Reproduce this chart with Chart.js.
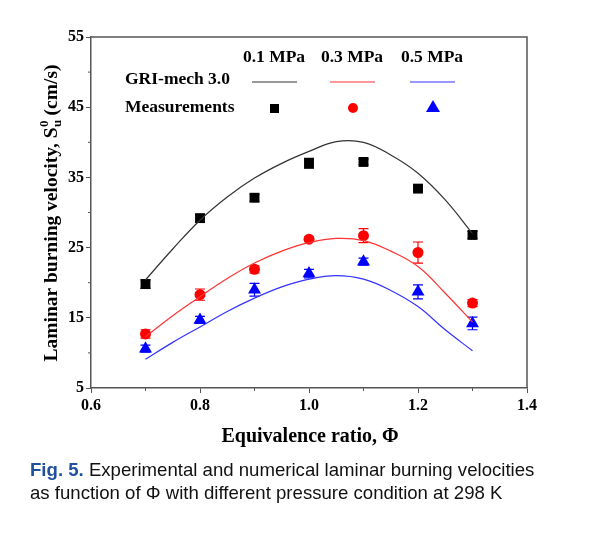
<!DOCTYPE html>
<html>
<head>
<meta charset="utf-8">
<script src="https://cdn.jsdelivr.net/npm/chart.js@4.4.1/dist/chart.umd.min.js"></script>
<style>
html,body{margin:0;padding:0;background:#fff;}
#wrap{position:relative;width:600px;height:536px;}
#cap{position:absolute;left:30px;top:458px;font-family:"Liberation Sans",Arial,sans-serif;font-size:18.6px;line-height:23px;color:#111;width:570px;white-space:nowrap;}
#cap .f{color:#1f4f9e;font-weight:bold;}
</style>
</head>
<body>
<div id="wrap">
<canvas id="c" width="600" height="536"></canvas>
<div id="cap"><span class="f">Fig. 5.</span> Experimental and numerical laminar burning velocities<br>as function of Φ with different pressure condition at 298 K</div>
</div>
<script>
// ---- data ----
const phiMeas = [0.7, 0.8, 0.9, 1.0, 1.1, 1.2, 1.3];
const meas01 = [19.8, 29.2, 32.1, 37.0, 37.2, 33.4, 26.8];
const err01  = [0.6, 0.5, 0.5, 0.7, 0.4, 0.4, 0.5];
const meas03 = [12.7, 18.3, 21.9, 26.2, 26.7, 24.3, 17.1];
const err03  = [0.6, 0.8, 0.5, 0.3, 1.0, 1.5, 0.5];
const meas05 = [10.6, 14.7, 19.0, 21.3, 23.0, 18.7, 14.2];
const err05  = [0.5, 0.5, 0.9, 0.6, 0.5, 1.0, 0.9];

const phiModel = [0.7, 0.75, 0.8, 0.85, 0.9, 0.95, 1.0, 1.05, 1.1, 1.15, 1.2, 1.25, 1.3];
const model01 = [20.4, 24.8, 28.9, 32.2, 34.9, 37.0, 38.7, 40.1, 40.0, 38.2, 35.6, 31.8, 27.0];
const model03 = [12.3, 15.3, 18.0, 20.6, 22.8, 24.5, 25.7, 26.3, 26.0, 24.5, 22.3, 18.5, 14.4];
const model05 = [9.1, 11.5, 13.7, 15.9, 17.8, 19.4, 20.5, 21.0, 20.5, 18.9, 16.6, 13.3, 10.3];

const pressureLabels = ["0.1 MPa", "0.3 MPa", "0.5 MPa"];
const xTicks = [0.6, 0.8, 1.0, 1.2, 1.4];
const yTicks = [5, 15, 25, 35, 45, 55];
const xMinor = [0.7, 0.9, 1.1, 1.3];
const yMinor = [10, 20, 30, 40, 50];

const lineColors = ["#333333", "#ff3333", "#3333ff"];
const markColors = ["#000000", "#ff0000", "#0000ff"];

const pts = (xs, ys) => xs.map((x, i) => ({x: x, y: ys[i]}));
const SERIF = '"Liberation Serif","Times New Roman",serif';

const datasets = [
  {type:'scatter', data: pts(phiModel, model01), showLine:true, borderColor: lineColors[0], borderWidth:1.2, pointRadius:0, tension:0.4, fill:false},
  {type:'scatter', data: pts(phiModel, model03), showLine:true, borderColor: lineColors[1], borderWidth:1.2, pointRadius:0, tension:0.4, fill:false},
  {type:'scatter', data: pts(phiModel, model05), showLine:true, borderColor: lineColors[2], borderWidth:1.2, pointRadius:0, tension:0.4, fill:false},
  {type:'scatter', data: pts(phiMeas, meas01), pointStyle:'rect', pointRadius:7, backgroundColor: markColors[0], borderColor: markColors[0], borderWidth:0, errs: err01},
  {type:'scatter', data: pts(phiMeas, meas03), pointStyle:'circle', pointRadius:5.5, backgroundColor: markColors[1], borderColor: markColors[1], borderWidth:0, errs: err03},
  {type:'scatter', data: pts(phiMeas, meas05), pointStyle:'triangle', pointRadius:7.5, backgroundColor: markColors[2], borderColor: markColors[2], borderWidth:0, errs: err05}
];

const extras = {
  id: 'extras',
  beforeDatasetsDraw(chart) {
    const ctx = chart.ctx, xs = chart.scales.x, ys = chart.scales.y;
    ctx.save();
    chart.data.datasets.forEach((ds) => {
      if (!ds.errs) return;
      ctx.strokeStyle = ds.borderColor;
      ctx.lineWidth = 1.2;
      ds.data.forEach((p, i) => {
        const e = ds.errs[i];
        const px = xs.getPixelForValue(p.x);
        const y1 = ys.getPixelForValue(p.y + e), y2 = ys.getPixelForValue(p.y - e);
        ctx.beginPath();
        ctx.moveTo(px, y1); ctx.lineTo(px, y2);
        ctx.moveTo(px - 5, y1); ctx.lineTo(px + 5, y1);
        ctx.moveTo(px - 5, y2); ctx.lineTo(px + 5, y2);
        ctx.stroke();
      });
    });
    ctx.restore();
  },
  afterDraw(chart) {
    const ctx = chart.ctx, a = chart.chartArea, xs = chart.scales.x, ys = chart.scales.y;
    ctx.save();
    // frame top & right
    ctx.strokeStyle = '#555';
    ctx.lineWidth = 1.5;
    ctx.beginPath();
    ctx.moveTo(a.left, a.top); ctx.lineTo(a.right, a.top); ctx.lineTo(a.right, a.bottom);
    ctx.stroke();
    // minor ticks
    ctx.lineWidth = 1;
    ctx.beginPath();
    xMinor.forEach(v => { const px = xs.getPixelForValue(v); ctx.moveTo(px, a.bottom); ctx.lineTo(px, a.bottom + 3); });
    yMinor.forEach(v => { const py = ys.getPixelForValue(v); ctx.moveTo(a.left, py); ctx.lineTo(a.left - 3, py); });
    ctx.stroke();

    // x title
    ctx.fillStyle = '#000';
    ctx.font = 'bold 20px ' + SERIF;
    ctx.textAlign = 'center';
    ctx.textBaseline = 'middle';
    ctx.fillText('Equivalence ratio, Φ', 310, 437);

    // y title with sub/superscript
    ctx.save();
    ctx.translate(50, 213);
    ctx.rotate(-Math.PI / 2);
    const big = 'bold 19.5px ' + SERIF, small = 'bold 13px ' + SERIF;
    const t1 = 'Laminar burning velocity, S', t3 = ' (cm/s)';
    ctx.font = big; const w1 = ctx.measureText(t1).width, w3 = ctx.measureText(t3).width;
    ctx.font = small; const w2 = Math.max(ctx.measureText('u').width, ctx.measureText('0').width);
    const tot = w1 + w2 + w3;
    let x0 = -tot / 2;
    ctx.textAlign = 'left';
    ctx.textBaseline = 'alphabetic';
    ctx.font = big; ctx.fillText(t1, x0, 7);
    ctx.font = small; ctx.fillText('u', x0 + w1 + 0.5, 11); ctx.fillText('0', x0 + w1 + 0.5, -2);
    ctx.font = big; ctx.fillText(t3, x0 + w1 + w2, 7);
    ctx.restore();

    // legend
    ctx.font = 'bold 17.5px ' + SERIF;
    ctx.textBaseline = 'middle';
    ctx.textAlign = 'center';
    const cols = [274, 352, 432];
    pressureLabels.forEach((s, i) => ctx.fillText(s, cols[i], 57));
    ctx.textAlign = 'left';
    ctx.fillText('GRI-mech 3.0', 125, 79);
    ctx.fillText('Measurements', 125, 107);
    cols.forEach((cx, i) => {
      ctx.strokeStyle = lineColors[i];
      ctx.lineWidth = 1.2;
      ctx.beginPath(); ctx.moveTo(cx - 22, 82); ctx.lineTo(cx + 23, 82); ctx.stroke();
    });
    ctx.fillStyle = markColors[0]; ctx.fillRect(270, 104, 9, 9);
    ctx.fillStyle = markColors[1]; ctx.beginPath(); ctx.arc(353, 108, 5, 0, Math.PI * 2); ctx.fill();
    ctx.fillStyle = markColors[2]; ctx.beginPath(); ctx.moveTo(433, 100); ctx.lineTo(440, 112); ctx.lineTo(426, 112); ctx.closePath(); ctx.fill();
    ctx.restore();
  }
};

const axisCommon = {
  grid: {display:true, drawOnChartArea:false, drawTicks:true, tickLength:5, color:'#555', lineWidth:1},
  border: {display:true, color:'#555', width:1.5},
  ticks: {color:'#000', font:{family:SERIF, size:16, weight:'bold'}}
};

new Chart(document.getElementById('c'), {
  type: 'scatter',
  data: {datasets: datasets},
  options: {
    responsive: false,
    animation: false,
    layout: {padding: {left: 0, top: 37, right: 73, bottom: 124}},
    plugins: {legend: {display:false}, tooltip: {enabled:false}},
    scales: {
      x: {
        type: 'linear', min: 0.6, max: 1.4,
        grid: axisCommon.grid, border: axisCommon.border,
        ticks: Object.assign({}, axisCommon.ticks, {padding: 3, callback: v => Number(v).toFixed(1)}),
        afterBuildTicks: s => { s.ticks = xTicks.map(v => ({value: v})); },
        afterFit: s => { s.height = 24; }
      },
      y: {
        type: 'linear', min: 5, max: 55,
        grid: axisCommon.grid, border: axisCommon.border,
        ticks: Object.assign({}, axisCommon.ticks, {padding: 2, callback: v => String(v)}),
        afterBuildTicks: s => { s.ticks = yTicks.map(v => ({value: v})); },
        afterFit: s => { s.width = 91; }
      }
    }
  },
  plugins: [extras]
});
</script>
</body>
</html>
